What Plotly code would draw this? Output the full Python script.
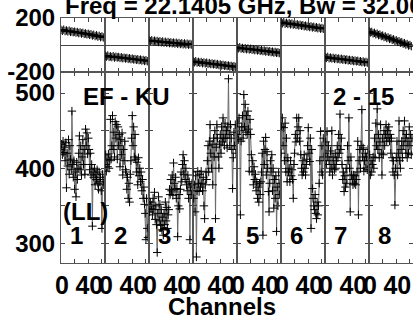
import plotly.graph_objects as go
from plotly.subplots import make_subplots

TITLE = "Freq = 22.1405 GHz, Bw = 32.000 MHz"
BASELINE = "EF - KU"
TIMERANGE = "2 - 15"
STOKES = "(LL)"
PANEL_LABELS = ["1", "2", "3", "4", "5", "6", "7", "8"]

AMP_CHANNELS = list(range(64))
PHASE_CHANNELS = list(range(0, 64, 2))

AMP_1 = [425, 432, 418, 436, 421, 428, 410, 434, 374, 420, 403, 438, 392, 430, 412, 398,
         476, 405, 388, 410, 372, 395, 362, 408, 385, 400, 420, 443, 398, 430, 391, 415,
         438, 405, 425, 392, 452, 430, 447, 419, 440, 425, 398, 420, 391, 405, 323, 395,
         388, 400, 378, 392, 385, 398, 380, 372, 395, 382, 388, 370, 320, 392, 378, 385]
AMP_2 = [405, 418, 396, 412, 402, 419, 400, 410, 465, 412, 430, 470, 425, 448, 415, 462,
         440, 458, 412, 455, 430, 445, 402, 438, 418, 447, 391, 425, 410, 436, 398, 395,
         372, 388, 360, 380, 355, 392, 410, 440, 470, 430, 455, 415, 445, 412, 395, 408,
         378, 414, 390, 400, 382, 395, 370, 385, 360, 375, 352, 340, 305, 360, 320, 308]
AMP_3 = [350, 342, 355, 346, 351, 338, 360, 345, 368, 332, 350, 325, 288, 340, 362, 330,
         352, 324, 345, 318, 335, 311, 340, 325, 355, 330, 348, 320, 338, 345, 372, 365,
         385, 370, 391, 364, 407, 380, 372, 388, 360, 373, 309, 350, 365, 346, 372, 395,
         382, 405, 418, 392, 410, 385, 400, 378, 370, 391, 360, 382, 305, 375, 365, 380]
AMP_4 = [395, 360, 378, 342, 390, 282, 370, 396, 380, 369, 392, 375, 396, 380, 370, 388,
         350, 333, 378, 395, 385, 410, 430, 395, 436, 458, 420, 400, 432, 378, 440, 415,
         450, 333, 428, 458, 440, 415, 400, 432, 445, 420, 455, 435, 467, 440, 430, 460,
         440, 450, 427, 455, 519, 445, 430, 458, 440, 425, 373, 414, 448, 430, 458, 420]
AMP_5 = [445, 460, 438, 467, 450, 338, 436, 455, 470, 440, 498, 455, 485, 448, 470, 445,
         476, 452, 396, 465, 445, 418, 395, 410, 378, 402, 385, 392, 370, 382, 360, 375,
         355, 380, 365, 382, 395, 420, 311, 436, 405, 425, 441, 391, 422, 400, 369, 342,
         380, 410, 395, 418, 370, 400, 347, 385, 360, 390, 316, 375, 350, 395, 365, 380]
AMP_6 = [420, 455, 467, 430, 454, 410, 460, 395, 440, 382, 414, 395, 400, 382, 410, 390,
         398, 385, 360, 405, 420, 445, 435, 467, 440, 455, 467, 436, 450, 418, 400, 391,
         410, 395, 418, 400, 391, 405, 412, 430, 454, 420, 409, 440, 320, 425, 373, 360,
         350, 345, 365, 340, 333, 355, 338, 350, 380, 410, 449, 395, 430, 391, 440, 415]
AMP_7 = [420, 435, 405, 449, 415, 430, 410, 395, 423, 400, 450, 391, 415, 405, 398, 420,
         400, 410, 430, 414, 445, 420, 472, 425, 440, 405, 385, 395, 369, 390, 375, 400,
         380, 430, 410, 467, 400, 342, 415, 391, 385, 378, 391, 380, 390, 378, 385, 395,
         436, 338, 410, 425, 400, 430, 478, 415, 427, 396, 410, 420, 400, 415, 398, 425]
AMP_8 = [400, 418, 391, 410, 395, 405, 415, 400, 440, 414, 460, 430, 479, 425, 445, 414,
         435, 458, 420, 391, 440, 418, 450, 430, 445, 458, 436, 450, 440, 455, 436, 445,
         420, 440, 414, 395, 410, 391, 351, 400, 414, 436, 391, 420, 463, 410, 400, 425,
         436, 414, 450, 430, 463, 440, 420, 445, 414, 436, 420, 455, 430, 445, 418, 440]

PH_1 = [112, 105, 114, 103, 108, 100, 106, 97, 101, 95, 99, 92, 96, 88, 93, 85,
        90, 82, 86, 79, 83, 75, 80, 70, 76, 66, 72, 62, 68, 58, 64, 56]
PH_2 = [-80, -86, -78, -88, -84, -90, -83, -93, -87, -92, -89, -96, -91, -98, -94, -100,
        -96, -103, -98, -105, -101, -107, -104, -110, -106, -112, -108, -115, -111, -118, -113, -120]
PH_3 = [34, 28, 35, 26, 32, 25, 30, 22, 28, 20, 26, 18, 24, 16, 22, 14,
        20, 13, 18, 11, 17, 9, 15, 7, 13, 5, 12, 4, 10, 2, 8, 3]
PH_4 = [-121, -128, -120, -130, -125, -132, -126, -135, -129, -136, -131, -139, -134, -141, -137, -143,
        -139, -146, -141, -149, -144, -151, -147, -154, -150, -156, -152, -159, -155, -162, -157, -163]
PH_5 = [-18, -25, -17, -27, -22, -29, -24, -31, -26, -33, -28, -35, -31, -38, -33, -40,
        -36, -43, -38, -45, -41, -48, -44, -50, -46, -53, -49, -56, -51, -58, -54, -60]
PH_6 = [168, 160, 170, 158, 164, 156, 162, 153, 159, 151, 156, 148, 153, 145, 150, 142,
        147, 139, 144, 136, 141, 133, 138, 130, 135, 127, 132, 124, 129, 121, 126, 120]
PH_7 = [-89, -96, -88, -98, -93, -100, -95, -103, -97, -104, -100, -107, -102, -109, -105, -111,
        -107, -114, -110, -116, -112, -119, -115, -121, -117, -124, -120, -127, -122, -130, -125, -131]
PH_8 = [101, 93, 97, 86, 90, 80, 84, 73, 77, 66, 70, 59, 63, 52, 56, 45,
        49, 38, 42, 31, 35, 24, 28, 17, 21, 10, 14, 3, 7, -4, 0, -9]

AMPS = [AMP_1, AMP_2, AMP_3, AMP_4, AMP_5, AMP_6, AMP_7, AMP_8]
PHASES = [PH_1, PH_2, PH_3, PH_4, PH_5, PH_6, PH_7, PH_8]

PH_TICKS = [-200, 0, 200]
PH_TICKTEXT = ["-200", "", "200"]
AMP_TICKS = [300, 350, 400, 450, 500]
AMP_TICKTEXT = ["300", "", "400", "", "500"]
CH_TICKS = [0, 20, 40, 60]
CH_TICKTEXT = ["0", "", "40", ""]

NP = len(AMPS)
FONT = "Liberation Sans, Arial, sans-serif"
W, H = 413, 320
ML, MR, MT, MB = 61, 0, 18, 57

fig = make_subplots(rows=2, cols=NP, horizontal_spacing=0, vertical_spacing=0,
                    row_heights=[54, 191])

mk = dict(symbol="cross-thin", size=6, line=dict(width=1, color="black"))
for i in range(NP):
    fig.add_trace(go.Scatter(x=PHASE_CHANNELS, y=PHASES[i], mode="lines+markers",
                             line=dict(color="#333", width=1), marker=mk,
                             showlegend=False), row=1, col=i + 1)
    fig.add_trace(go.Scatter(x=AMP_CHANNELS, y=AMPS[i], mode="lines+markers",
                             line=dict(color="#6a6a6a", width=1), marker=mk,
                             showlegend=False), row=2, col=i + 1)

xtickfont = dict(family=FONT, size=25, color="black", weight="bold")
ytickfont = dict(family=FONT, size=24, color="black", weight="bold")
axcommon = dict(showline=True, mirror="ticks", linecolor="#555", linewidth=1,
                ticks="inside", ticklen=4, tickcolor="#444", tickwidth=1,
                showgrid=False, automargin=False)
for i in range(NP):
    for r in (1, 2):
        fig.update_xaxes(range=[0, 64.5], tickmode="array", tickvals=CH_TICKS,
                         ticktext=CH_TICKTEXT, showticklabels=(r == 2),
                         ticklabelstandoff=0, ticklabelshift=1, zeroline=False,
                         tickfont=xtickfont, row=r, col=i + 1, **axcommon)
    fig.update_yaxes(range=[-200, 200], tickmode="array", tickvals=PH_TICKS,
                     ticktext=PH_TICKTEXT, showticklabels=(i == 0),
                     zeroline=True, zerolinecolor="#444", zerolinewidth=1,
                     tickfont=ytickfont, row=1, col=i + 1, **axcommon)
    fig.update_yaxes(range=[274, 528], tickmode="array", tickvals=AMP_TICKS,
                     ticktext=AMP_TICKTEXT, showticklabels=(i == 0), zeroline=False,
                     tickfont=ytickfont, row=2, col=i + 1, **axcommon)

lab = dict(family=FONT, size=24, color="black", weight="bold")
pw = W - ML - MR
ph = H - MT - MB


def px(x):
    return (x - ML) / pw


def py(y):
    return (H - MB - y) / ph


ann = [
    dict(text=TITLE, x=px(63), y=py(12), xanchor="left", yanchor="bottom", yshift=-9),
    dict(text=BASELINE, x=px(126), y=py(96), xanchor="center", yanchor="middle"),
    dict(text=TIMERANGE, x=px(363), y=py(96), xanchor="center", yanchor="middle"),
    dict(text=STOKES, x=px(85), y=py(211), xanchor="center", yanchor="middle"),
    dict(text="Channels", x=px(222), y=py(306), xanchor="center", yanchor="middle"),
]
for a in ann:
    a.update(xref="paper", yref="paper", showarrow=False, font=lab)
    fig.add_annotation(**a)

for i, t in enumerate(PANEL_LABELS):
    fig.add_annotation(text=t, xref="x" + str(i + 1 + NP), yref="y" + str(i + 1 + NP),
                       x=23, y=310, showarrow=False, font=lab,
                       xanchor="center", yanchor="middle")

fig.update_layout(width=W, height=H, margin=dict(l=ML, r=MR, t=MT, b=MB),
                  paper_bgcolor="white", plot_bgcolor="white", showlegend=False)
fig.write_html("out.html", config={"displayModeBar": False},
               post_script="document.body.style.margin='0';")
